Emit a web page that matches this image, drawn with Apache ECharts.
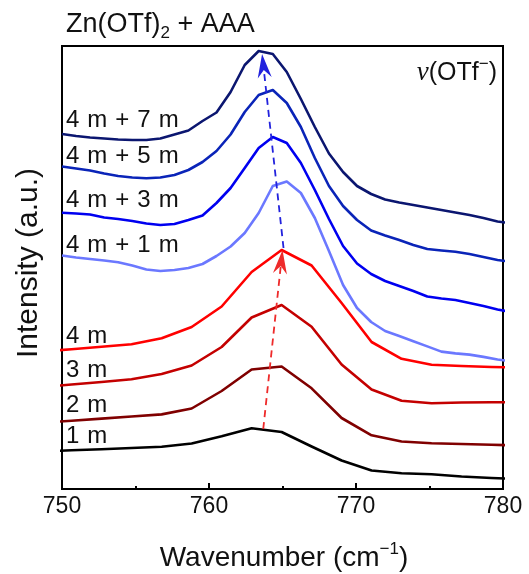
<!DOCTYPE html>
<html>
<head>
<meta charset="utf-8">
<script src="https://cdn.jsdelivr.net/npm/echarts@6/dist/echarts.min.js"></script>
<style>
html, body { margin: 0; padding: 0; background: #fff; }
#chart { width: 529px; height: 574px; }
</style>
</head>
<body>
<div id="chart"></div>
<script>
// Wavenumber sampling (cm^-1) of the early spectra (1–4 min)
const wnEarly = [748.61, 750.65, 752.69, 754.73, 756.78, 758.82, 760.86, 762.90, 764.94,
  766.98, 769.02, 771.06, 773.10, 775.14, 777.18, 779.22, 781.26];

// Wavenumber sampling (cm^-1) of the later spectra (after AAA addition)
const wnLate = [750.00, 750.96, 751.91, 752.87, 753.82, 754.78, 755.74, 756.69, 757.65, 758.60,
  759.56, 760.51, 761.47, 762.43, 763.38, 764.34, 765.29, 766.25, 767.20, 768.16,
  769.12, 770.07, 771.03, 771.98, 772.94, 773.90, 774.85, 775.81, 776.76, 777.72,
  778.67, 779.63, 780.59];

// Stacked intensities (a.u., offset for display)
const int1m = [37.5, 38.7, 39.7, 41, 42.3, 45.5, 52.7, 60.7, 57, 42.5, 28.5, 18.5, 15.8, 14.7, 12.5, 11, 10];
const int2m = [66.2, 68.3, 70.4, 72.5, 74.6, 80.5, 98, 119.5, 122.5, 100.7, 71, 53.7, 47.5, 45.8, 45, 44.2, 43.5];
const int3m = [102, 104.5, 107, 109.7, 115, 123.5, 142, 171.5, 184, 162.3, 124.5, 99.5, 88.2, 85.7, 86.5, 86.7, 86.7];
const int4m = [137.5, 139.8, 142.2, 144.7, 150.7, 162, 182.5, 217, 239, 223.5, 186, 147, 130.2, 124.2, 123, 122, 121.5];

const int4m1m = [233.5, 231.5, 230, 228.5, 226.7, 223.5, 219.5, 218, 219, 221, 225, 233, 242.5, 256, 276, 303,
  307.5, 296, 271, 238, 204, 181, 167, 158, 153, 147.8, 142.6, 137.4, 135.6, 134.4, 132.1, 129.5, 127.5];
const int4m3m = [276.3, 275.5, 274.5, 271.5, 270, 268, 265.5, 264, 265, 269, 273.5, 286, 301, 321, 341, 352,
  346, 326, 299, 270, 243, 225.5, 215, 208, 203, 198, 192.5, 190.5, 189, 186, 183, 179.5, 177];
const int4m5m = [322.5, 320.5, 318.5, 315.5, 313, 311.5, 310.7, 311.5, 314, 319, 327, 338, 354.5, 377, 394, 399,
  386, 362, 331, 303, 283, 269, 258.5, 253.5, 249, 244, 240, 238.5, 237.2, 235, 232, 229, 227];
const int4m7m = [355, 353, 351.5, 350.5, 349.5, 349, 349, 350.5, 354.5, 358.5, 368, 376.5, 397, 424, 438, 435,
  417, 390, 362, 335.5, 317, 303, 295, 289.5, 286.5, 284, 281.5, 279, 276.5, 274, 271, 267.5, 265.5];

const seriesNames = ['1 m', '2 m', '3 m', '4 m', '4 m + 1 m', '4 m + 3 m', '4 m + 5 m', '4 m + 7 m'];
const seriesColors = ['#000000', '#800000', '#C40000', '#FF0000', '#6B78FF', '#0000F0', '#0A24B8', '#0B1670'];
const seriesX = [wnEarly, wnEarly, wnEarly, wnEarly, wnLate, wnLate, wnLate, wnLate];
const seriesY = [int1m, int2m, int3m, int4m, int4m1m, int4m3m, int4m5m, int4m7m];

// Peak-shift guides: [x0, y0, x1, y1] from tail to arrow tip
const shiftArrows = [[763.69, 60, 765.0, 239], [765.07, 241, 763.61, 435]];
const arrowColors = ['#EE2A2A', '#2222DD'];

const xTicks = [750, 760, 770, 780];

const FONT = 'Liberation Sans, Arial, sans-serif';
const SP = '\u2004'; // slightly wider word gap used in the curve labels

const chart = echarts.init(document.getElementById('chart'), null, { renderer: 'canvas' });

const lineSeries = seriesNames.map(function (name, i) {
  return {
    type: 'line',
    name: name,
    data: seriesX[i].map(function (x, j) { return [x, seriesY[i][j]]; }),
    showSymbol: false,
    symbol: 'none',
    clip: true,
    lineStyle: { color: seriesColors[i], width: 2.6, join: 'round' },
    z: 3,
    silent: true
  };
});

const arrowSeries = {
  type: 'custom',
  data: shiftArrows,
  encode: { x: [0, 2], y: [1, 3] },
  clip: false,
  z: 5,
  silent: true,
  renderItem: function (params, api) {
    const p1 = api.coord([api.value(0), api.value(1)]);
    const p2 = api.coord([api.value(2), api.value(3)]);
    const color = arrowColors[params.dataIndex];
    const dx = p2[0] - p1[0], dy = p2[1] - p1[1];
    const len = Math.sqrt(dx * dx + dy * dy);
    const ux = dx / len, uy = dy / len;
    const nx = -uy, ny = ux;
    const L = 24, W = 7, notch = 16;
    const base = [p2[0] - ux * L, p2[1] - uy * L];
    const inner = [p2[0] - ux * notch, p2[1] - uy * notch];
    return {
      type: 'group',
      children: [
        {
          type: 'line',
          shape: { x1: p1[0], y1: p1[1], x2: inner[0], y2: inner[1] },
          style: { stroke: color, lineWidth: 1.8, lineDash: [7, 5], fill: null }
        },
        {
          type: 'polygon',
          shape: { points: [p2, [base[0] + nx * W, base[1] + ny * W], inner, [base[0] - nx * W, base[1] - ny * W]] },
          style: { fill: color }
        }
      ]
    };
  }
};

// Curve labels: [text, left, vertical centre]
const curveLabels = [
  ['4' + SP + 'm' + SP + '+' + SP + '7' + SP + 'm', 66, 120],
  ['4' + SP + 'm' + SP + '+' + SP + '5' + SP + 'm', 66, 156.7],
  ['4' + SP + 'm' + SP + '+' + SP + '3' + SP + 'm', 66, 200],
  ['4' + SP + 'm' + SP + '+' + SP + '1' + SP + 'm', 66, 245],
  ['4' + SP + 'm', 66, 336.3],
  ['3' + SP + 'm', 66, 370],
  ['2' + SP + 'm', 66, 405.8],
  ['1' + SP + 'm', 66, 436.7]
];

const graphics = curveLabels.map(function (l) {
  return {
    type: 'text', x: l[1], y: l[2], z: 10, silent: true,
    style: { text: l[0], fill: '#111', font: '24px ' + FONT, verticalAlign: 'middle', align: 'left' }
  };
});

graphics.push({
  type: 'text', x: 66, y: 8, z: 10, silent: true,
  style: {
    text: '{a|Zn(OTf)}{s|2}{a| + AAA}',
    align: 'left', verticalAlign: 'top',
    rich: {
      a: { fontSize: 27, fontFamily: FONT, lineHeight: 34, fill: '#111', verticalAlign: 'middle' },
      s: { fontSize: 17, fontFamily: FONT, lineHeight: 17, fill: '#111', verticalAlign: 'bottom' }
    }
  }
});

graphics.push({
  type: 'text', x: 497, y: 56, z: 10, silent: true,
  style: {
    text: '{n|ν}{a|(OTf}{p|−}{a|)}',
    align: 'right', verticalAlign: 'top',
    rich: {
      n: { fontSize: 27, fontFamily: 'Liberation Serif, Times New Roman, serif', fontStyle: 'italic', lineHeight: 34, fill: '#111', verticalAlign: 'middle' },
      a: { fontSize: 25, fontFamily: FONT, lineHeight: 34, fill: '#111', verticalAlign: 'middle' },
      p: { fontSize: 17, fontFamily: FONT, lineHeight: 22, fill: '#111', verticalAlign: 'top' }
    }
  }
});

graphics.push({
  type: 'text', x: 29, y: 263, rotation: Math.PI / 2, z: 10, silent: true,
  style: { text: 'Intensity (a.u.)', fill: '#111', font: '30px ' + FONT, align: 'center', verticalAlign: 'middle' }
});

graphics.push({
  type: 'text', x: 284, y: 541, z: 10, silent: true,
  style: {
    text: '{a|Wavenumber (cm}{p|−1}{a|)}',
    align: 'center', verticalAlign: 'top',
    rich: {
      a: { fontSize: 28, fontFamily: FONT, lineHeight: 34, fill: '#111', verticalAlign: 'middle' },
      p: { fontSize: 17, fontFamily: FONT, lineHeight: 26, fill: '#111', verticalAlign: 'top' }
    }
  }
});

chart.setOption({
  animation: false,
  backgroundColor: '#fff',
  grid: {
    left: 62, right: 26, top: 46, bottom: 85,
    show: true, borderColor: '#000', borderWidth: 2, backgroundColor: 'transparent'
  },
  xAxis: {
    type: 'value',
    min: xTicks[0], max: xTicks[xTicks.length - 1], interval: 10,
    axisLine: { show: true, onZero: false, lineStyle: { color: '#000', width: 2 } },
    axisTick: { show: true, inside: true, length: 6, lineStyle: { color: '#000', width: 2 } },
    minorTick: { show: true, splitNumber: 2, length: 3, lineStyle: { color: '#000', width: 2 } },
    splitLine: { show: false },
    axisLabel: { color: '#111', fontSize: 23, fontFamily: FONT, margin: 6,
      formatter: function (v) { return xTicks.indexOf(v) >= 0 ? String(v) : ''; } }
  },
  yAxis: {
    type: 'value', min: 0, max: 443,
    axisLine: { show: true, lineStyle: { color: '#000', width: 2 } },
    axisTick: { show: false }, axisLabel: { show: false }, splitLine: { show: false }
  },
  series: lineSeries.concat([arrowSeries]),
  graphic: graphics
});
</script>
</body>
</html>
